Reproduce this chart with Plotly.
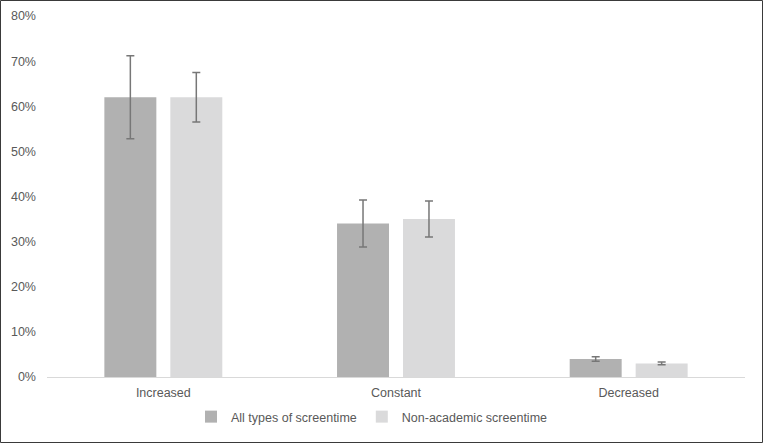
import plotly.graph_objects as go

categories = ["Increased", "Constant", "Decreased"]
all_types = [62, 34, 4]
all_types_err = [9.2, 5.2, 0.5]
non_academic = [62, 35, 3]
non_academic_err = [5.5, 4.0, 0.3]

W, H = 763, 443
ml, mr, mt, mb = 47, 18, 16, 66
pw, ph = W - ml - mr, H - mt - mb

fig = go.Figure()
fig.add_trace(go.Bar(
    name="All types of screentime", x=categories, y=all_types,
    marker=dict(color="#b1b1b1", line=dict(width=0)),
    error_y=dict(type="data", array=all_types_err, visible=True,
                 color="#777777", thickness=1.5, width=4),
))
fig.add_trace(go.Bar(
    name="Non-academic screentime", x=categories, y=non_academic,
    marker=dict(color="#dadadb", line=dict(width=0)),
    error_y=dict(type="data", array=non_academic_err, visible=True,
                 color="#777777", thickness=1.5, width=4),
))

fig.add_shape(type="rect", xref="paper", yref="paper",
              x0=-(ml - 0.5) / pw, x1=1 + (mr - 0.5) / pw,
              y0=-(mb - 0.5) / ph, y1=1 + (mt - 0.5) / ph,
              line=dict(color="#3a3a3a", width=1), layer="below")

fig.update_layout(
    width=W, height=H, autosize=False,
    margin=dict(l=ml, r=mr, t=mt, b=mb, autoexpand=False),
    paper_bgcolor="white", plot_bgcolor="white",
    barmode="group", bargap=0.433, bargroupgap=0.212,
    font=dict(family="Liberation Sans, Arial, sans-serif", size=12.5, color="#595959"),
    showlegend=True,
    legend=dict(orientation="h", xref="container", yref="container",
                x=191 / W, xanchor="left", y=1 - 417 / H, yanchor="middle",
                font=dict(size=12.5, color="#595959"), itemwidth=30,
                traceorder="normal"),
    yaxis=dict(range=[0, 80], dtick=10, ticksuffix="%", showgrid=False,
               zeroline=False, showline=False, ticks="", automargin=False,
               ticklabelstandoff=10, tickfont=dict(size=12.5, color="#595959")),
    xaxis=dict(showgrid=False, showline=True, linecolor="#d9d9d9", linewidth=1,
               ticks="", automargin=False,
               ticklabelstandoff=4, tickfont=dict(size=12.5, color="#595959")),
)

fig.write_html("out.html", config={"displayModeBar": False},
               post_script="document.body.style.margin='0';document.body.style.overflow='hidden';")
